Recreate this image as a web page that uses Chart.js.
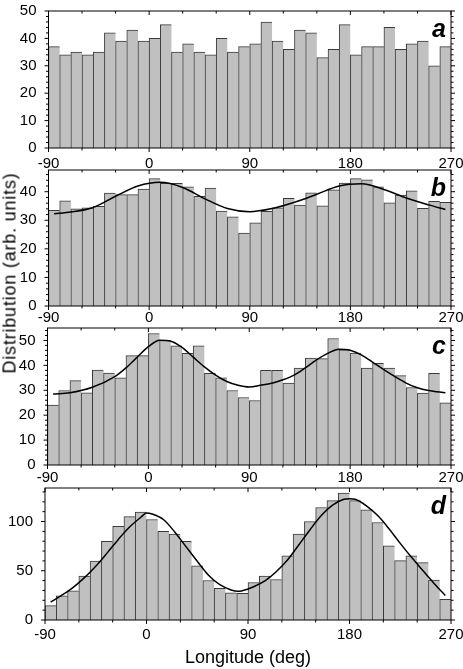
<!DOCTYPE html>
<html>
<head>
<meta charset="utf-8">
<script src="https://cdn.jsdelivr.net/npm/chart.js@4"></script>
<style>
  html, body { margin: 0; padding: 0; background: #fff; }
  body { width: 463px; height: 669px; position: relative; overflow: hidden; font-family: "Liberation Sans", Arial, sans-serif; }
  canvas { position: absolute; left: 0; }
  .title { position: absolute; color: #000; font-size: 18px; white-space: nowrap; }
</style>
</head>
<body>
<canvas id="panelA" width="463" height="172" style="top:-2px"></canvas>
<canvas id="panelB" width="463" height="172" style="top:157px"></canvas>
<canvas id="panelC" width="463" height="172" style="top:315px"></canvas>
<canvas id="panelD" width="463" height="170" style="top:475px"></canvas>
<div class="title" style="left:248px; top:657px; transform:translate(-50%,-50%)">Longitude (deg)</div>
<div class="title" style="left:10px; top:273px; letter-spacing:0.8px; transform:translate(-50%,-50%) rotate(-90deg)">Distribution (arb. units)</div>
<script>
// 10-degree longitude bins, -90..270
const binCenters = [-85, -75, -65, -55, -45, -35, -25, -15, -5, 5, 15, 25, 35, 45, 55, 65, 75, 85,
    95, 105, 115, 125, 135, 145, 155, 165, 175, 185, 195, 205, 215, 225, 235, 245, 255, 265];
const xTicks = [-90, 0, 90, 180, 270];
const yTicksSmall = [0, 10, 20, 30, 40, 50];
const yTicksD = [0, 50, 100];

const countsA = [37, 34, 35, 34, 35, 42, 39, 43, 39, 40, 45, 35, 38, 35, 34, 40, 35, 37,
    38, 46, 39, 36, 43, 42, 33, 36, 45, 34, 37, 37, 44, 36, 38, 39, 30, 37];
const countsB = [33.5, 36.8, 34.0, 34.4, 34.9, 39.5, 39.0, 39.0, 40.9, 44.6, 42.9, 42.9, 41.7, 38.4, 41.3, 33.2, 31.2, 25.5,
    29.1, 33.1, 34.4, 37.7, 35.3, 39.6, 35.1, 40.7, 43.0, 44.6, 44.2, 41.7, 36.1, 38.8, 40.3, 34.2, 36.6, 36.3];
const countsC = [24.1, 29.9, 33.9, 29.0, 38.1, 36.9, 35.0, 43.9, 43.9, 52.8, 50.0, 47.8, 44.8, 47.8, 36.8, 35.0, 29.9, 27.1,
    25.9, 38.0, 38.0, 32.9, 38.9, 42.9, 42.7, 50.8, 46.2, 44.9, 38.9, 40.8, 38.9, 35.9, 31.1, 28.9, 36.8, 25.0];
const countsD = [14.6, 24.5, 29.5, 44.7, 59.9, 79.8, 95.0, 105.0, 109.6, 102.0, 90.1, 87.1, 79.8, 55.0, 40.1, 32.1, 27.5, 27.2,
    38.1, 44.7, 41.1, 65.2, 87.1, 100.0, 114.2, 121.2, 128.8, 121.2, 111.9, 99.0, 75.2, 60.3, 65.2, 58.3, 40.4, 20.9];

// fitted curves
const fitBx = [-85, -70, -50, -30, -10, 10, 30, 50, 70, 90, 110, 130, 150, 170, 190, 210, 230, 250, 265];
const fitBy = [32.3, 32.9, 34.5, 38.4, 42.0, 43.3, 41.5, 37.5, 34.1, 33.0, 34.1, 36.3, 39.1, 42.0, 42.8, 40.8, 37.8, 35.4, 33.8];
const fitCx = [-85, -70, -50, -30, -20, -10, 0, 10, 20, 30, 40, 50, 60, 70, 80, 90, 100, 110, 120, 130,
    140, 150, 160, 170, 180, 190, 200, 210, 220, 230, 240, 250, 265];
const fitCy = [28.5, 29.0, 31.2, 35.5, 39.0, 43.3, 47.5, 50.1, 49.7, 47.2, 43.3, 39.4, 36.1, 33.5, 32.0, 31.3, 32.0, 32.8, 34.2, 36.1,
    39.0, 42.2, 44.8, 46.5, 46.1, 44.2, 41.3, 38.3, 35.5, 32.9, 31.0, 29.9, 29.0];
const fitDx = [-85, -75, -65, -55, -45, -35, -25, -15, -5, 0, 5, 15, 25, 35, 45, 55, 65, 75, 81, 90,
    95, 105, 115, 125, 135, 145, 155, 165, 175, 180, 185, 195, 205, 215, 225, 235, 245, 255, 265];
const fitDy = [18.2, 25.2, 33.1, 43.0, 54.6, 67.9, 81.8, 94.4, 104.3, 108.6, 107.6, 102.0, 89.4, 74.5, 59.6, 45.4, 35.8, 30.5, 29.1, 31.5,
    33.8, 39.7, 49.0, 60.9, 76.2, 91.7, 106.0, 116.6, 122.5, 123.2, 122.5, 115.9, 106.0, 92.7, 77.8, 63.6, 50.3, 37.1, 24.8];

const FONT = '"Liberation Sans", Arial, sans-serif';

// frame, outward ticks on all four sides and the panel letter
const frameTicks = {
    id: 'frameTicks',
    afterDatasetsDraw(chart, args, opts) {
        const { ctx, chartArea: a, scales: { x, y } } = chart;
        ctx.save();
        ctx.strokeStyle = '#000';
        ctx.lineWidth = 1;
        ctx.strokeRect(a.left, a.top, a.width, a.height);
        ctx.beginPath();
        for (let v = -90; v <= 270; v += 30) {
            const px = x.getPixelForValue(v);
            const len = v % 90 === 0 ? 4 : 2.5;
            ctx.moveTo(px, a.bottom); ctx.lineTo(px, a.bottom + len);
            ctx.moveTo(px, a.top); ctx.lineTo(px, a.top + len);
        }
        for (let v = 0; v <= y.max; v += opts.minor) {
            const py = y.getPixelForValue(v);
            const len = v % opts.major === 0 ? 4 : 2.5;
            ctx.moveTo(a.left - len, py); ctx.lineTo(a.left, py);
            ctx.moveTo(a.right, py); ctx.lineTo(a.right + len, py);
        }
        ctx.stroke();
        ctx.fillStyle = '#000';
        ctx.font = 'italic bold 25px ' + FONT;
        ctx.textAlign = 'right';
        ctx.textBaseline = 'alphabetic';
        ctx.fillText(opts.tag, a.right - 5, a.top + 26);
        ctx.restore();
    }
};

function makePanel(id, p) {
    const datasets = [];
    if (p.fitX) {
        datasets.push({
            type: 'line',
            data: p.fitX.map((x, i) => ({ x, y: p.fitY[i] })),
            borderColor: '#000',
            borderWidth: 1.5,
            pointRadius: 0,
            cubicInterpolationMode: 'monotone',
            order: 0
        });
    }
    datasets.push({
        type: 'bar',
        data: binCenters.map((x, i) => ({ x, y: p.counts[i] })),
        backgroundColor: '#c0c0c0',
        borderColor: '#3a3a3a',
        borderWidth: { top: 1, left: 1, right: 0, bottom: 0 },
        borderSkipped: false,
        barPercentage: 1,
        categoryPercentage: 1,
        order: 1
    });

    new Chart(document.getElementById(id).getContext('2d'), {
        data: { datasets },
        options: {
            responsive: false,
            animation: false,
            layout: { padding: { top: 10, right: 12, left: 0, bottom: 0 } },
            plugins: {
                legend: { display: false },
                tooltip: { enabled: false },
                frameTicks: { tag: p.tag, major: p.yStep, minor: p.yMinor }
            },
            scales: {
                x: {
                    type: 'linear',
                    offset: false,
                    min: -90,
                    max: 270,
                    afterFit(s) { s.height = p.xAxisH; },
                    afterBuildTicks(s) { s.ticks = xTicks.map(v => ({ value: v })); },
                    grid: { display: false, offset: false },
                    border: { display: false },
                    ticks: { color: '#000', font: { family: FONT, size: 15 }, padding: p.xPad, maxRotation: 0, autoSkip: false }
                },
                y: {
                    min: 0,
                    max: p.yMax,
                    afterFit(s) { s.width = p.plotLeft; },
                    afterBuildTicks(s) { s.ticks = p.yTicks.map(v => ({ value: v })); },
                    grid: { display: false },
                    border: { display: false },
                    ticks: { color: '#000', font: { family: FONT, size: 15 }, padding: 4 }
                }
            }
        },
        plugins: [frameTicks]
    });
}

makePanel('panelA', { counts: countsA, yMax: 50, yStep: 10, yMinor: 2, yTicks: yTicksSmall, tag: 'a', plotLeft: 48.5, xAxisH: 22, xPad: -1 });
makePanel('panelB', { counts: countsB, fitX: fitBx, fitY: fitBy, yMax: 47.6, yStep: 10, yMinor: 2, yTicks: yTicksSmall.slice(0, 5), tag: 'b', plotLeft: 48.5, xAxisH: 23, xPad: -5 });
makePanel('panelC', { counts: countsC, fitX: fitCx, fitY: fitCy, yMax: 55, yStep: 10, yMinor: 2, yTicks: yTicksSmall, tag: 'c', plotLeft: 47.5, xAxisH: 22, xPad: -4 });
makePanel('panelD', { counts: countsD, fitX: fitDx, fitY: fitDy, yMax: 134, yStep: 50, yMinor: 10, yTicks: yTicksD, tag: 'd', plotLeft: 45, xAxisH: 25, xPad: -2 });
</script>
</body>
</html>
